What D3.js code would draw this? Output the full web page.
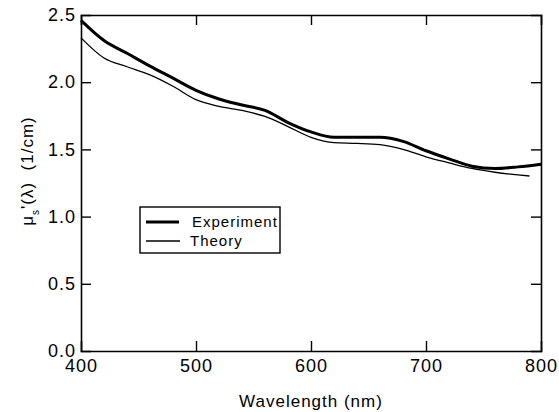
<!DOCTYPE html>
<html>
<head>
<meta charset="utf-8">
<script src="https://cdn.jsdelivr.net/npm/d3@7"></script>
<style>
  body { margin: 0; background: white; }
  text { font-family: "Liberation Sans", Arial, Helvetica, sans-serif; fill: black; }
</style>
</head>
<body>
<div id="grafico"></div>
<script>
// valores
var expWave = [400, 420, 440, 460, 480, 500, 520, 540, 560, 580, 600, 620, 640, 660, 680, 700, 720, 740, 760, 780, 800];
var expMu   = [2.46, 2.31, 2.215, 2.12, 2.03, 1.94, 1.875, 1.83, 1.79, 1.70, 1.63, 1.59, 1.59, 1.59, 1.56, 1.49, 1.43, 1.375, 1.358, 1.37, 1.39];

var theoWave = [400, 420, 440, 460, 480, 500, 520, 540, 560, 580, 600, 620, 640, 660, 680, 700, 720, 740, 760, 780, 790];
var theoMu   = [2.33, 2.18, 2.115, 2.055, 1.97, 1.87, 1.82, 1.79, 1.745, 1.67, 1.59, 1.55, 1.545, 1.535, 1.50, 1.445, 1.40, 1.358, 1.33, 1.31, 1.302];

var xTicks = [400, 500, 600, 700, 800];
var yTicks = [0.0, 0.5, 1.0, 1.5, 2.0, 2.5];

var margin = {top: 15, right: 18, bottom: 61, left: 81},
    w = 559,
    h = 412;

var svg = d3.select("#grafico")
            .append("svg")
            .attr("width", w)
            .attr("height", h)
            .style("background-color", "white");

var width = w - margin.left - margin.right,
    height = h - margin.top - margin.bottom,
    g = svg.append("g").attr("transform", "translate(" + margin.left + "," + margin.top + ")");

var x = d3.scaleLinear().domain([400, 800]).range([0, width]);
var y = d3.scaleLinear().domain([0, 2.5]).range([height, 0]);

// ejes con marcas hacia adentro
var tickLen = 10;
var axisB = d3.axisBottom(x).tickValues(xTicks).tickSize(-tickLen).tickPadding(8).tickFormat(d3.format("d"));
var axisT = d3.axisTop(x).tickValues(xTicks).tickSize(-tickLen).tickFormat("");
var axisL = d3.axisLeft(y).tickValues(yTicks).tickSize(-tickLen).tickPadding(5).tickFormat(d3.format(".1f"));
var axisR = d3.axisRight(y).tickValues(yTicks).tickSize(-tickLen).tickFormat("");

function estilo(sel) {
    sel.select(".domain").attr("stroke-width", 1.6);
    sel.selectAll(".tick line").attr("stroke-width", 1.4);
    sel.selectAll(".tick text")
       .style("font-size", "18px")
       .style("letter-spacing", "1px")
       .attr("fill", "black");
}

g.append("g").attr("transform", "translate(0," + height + ")").call(axisB).call(estilo);
g.append("g").call(axisT).call(estilo);
g.append("g").call(axisL).call(estilo);
g.append("g").attr("transform", "translate(" + width + ",0)").call(axisR).call(estilo);

// quitar marcas en los bordes (coinciden con el marco)
g.selectAll(".tick line").filter(function(d) { return d === 400 || d === 800 || d === 0 || d === 2.5; }).remove();

var linea = d3.line()
    .x(function(d) { return x(d[0]); })
    .y(function(d) { return y(d[1]); })
    .curve(d3.curveMonotoneX);

var expData = expWave.map(function(d, i) { return [d, expMu[i]]; });
var theoData = theoWave.map(function(d, i) { return [d, theoMu[i]]; });

g.append("path").datum(theoData)
    .attr("fill", "none").attr("stroke", "black").attr("stroke-width", 1.3)
    .attr("d", linea);

g.append("path").datum(expData)
    .attr("fill", "none").attr("stroke", "black").attr("stroke-width", 3)
    .attr("d", linea);

// leyenda
var leg = g.append("g").attr("transform", "translate(" + (140 - margin.left) + "," + (207 - margin.top) + ")");
leg.append("rect").attr("width", 140).attr("height", 46)
   .attr("fill", "white").attr("stroke", "black").attr("stroke-width", 1.4);
leg.append("line").attr("x1", 6).attr("x2", 39).attr("y1", 15).attr("y2", 15)
   .attr("stroke", "black").attr("stroke-width", 3);
leg.append("line").attr("x1", 6).attr("x2", 40).attr("y1", 34).attr("y2", 34)
   .attr("stroke", "black").attr("stroke-width", 1.3);
leg.append("text").attr("x", 52).attr("y", 20).style("font-size", "15px").style("letter-spacing", "1px").text("Experiment");
leg.append("text").attr("x", 50).attr("y", 39).style("font-size", "15px").style("letter-spacing", "1px").text("Theory");

// titulos de ejes
svg.append("text")
    .attr("x", margin.left + width / 2)
    .attr("y", 407)
    .attr("text-anchor", "middle")
    .style("font-size", "17px")
    .style("letter-spacing", "1px")
    .text("Wavelength (nm)");

var yt = svg.append("text")
    .attr("transform", "translate(33,171) rotate(-90)")
    .attr("text-anchor", "middle")
    .style("font-size", "17px")
    .style("letter-spacing", "1px");
yt.append("tspan").text("\u03bc");
yt.append("tspan").attr("baseline-shift", "sub").style("font-size", "10px").text("s");
yt.append("tspan").text("'(\u03bb)\u00a0\u00a0(1/cm)");
</script>
</body>
</html>
